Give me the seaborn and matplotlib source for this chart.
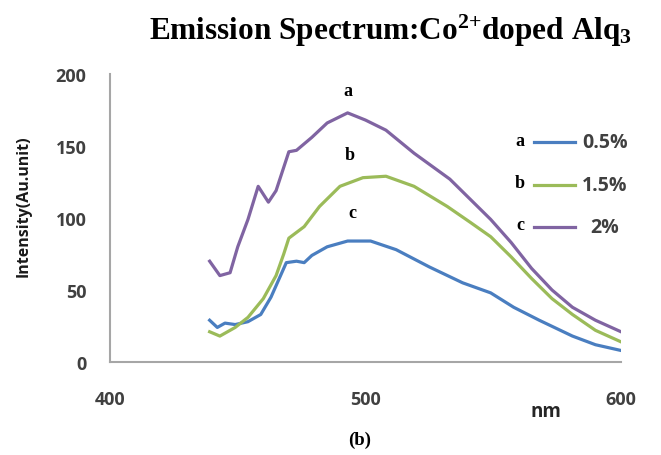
import matplotlib
matplotlib.use("Agg")
import matplotlib.pyplot as plt
import seaborn as sns
import pandas as pd

# ---- data ----
wl_05 = [439, 442, 445, 449, 454, 459, 463, 466, 469, 473, 476, 479, 485, 493, 502, 512, 525, 538, 549, 558, 568, 581, 590, 600]
int_05 = [29, 24, 27, 26, 28, 33, 45, 57, 69, 70, 69, 74, 80, 84, 84, 78, 66, 55, 48, 38, 29, 18, 12, 8]

wl_15 = [439, 443, 449, 454, 460, 465, 468, 470, 473, 476, 482, 490, 499, 508, 519, 532, 541, 549, 557, 565, 573, 581, 590, 600]
int_15 = [21, 18, 24, 31, 44, 60, 75, 86, 90, 94, 108, 122, 128, 129, 122, 108, 97, 87, 73, 58, 44, 33, 22, 14]

wl_2 = [439, 443, 447, 450, 454, 458, 462, 465, 470, 473, 479, 485, 493, 500, 508, 519, 533, 541, 549, 557, 565, 573, 581, 590, 600]
int_2 = [70, 60, 62, 80, 99, 122, 111, 119, 146, 147, 156, 166, 173, 168, 161, 145, 127, 113, 99, 83, 65, 50, 38, 29, 21]

series_names = ["0.5%", "1.5%", "2%"]
series_letters = ["a", "b", "c"]
curve_letters = ["c", "b", "a"]  # annotations drawn above each curve
colors = ["#4A7EC0", "#9BBB59", "#8064A2"]

x_ticks = [400, 500, 600]
y_ticks = [0, 50, 100, 150, 200]

frames = []
for name, wl, val in zip(series_names, [wl_05, wl_15, wl_2], [int_05, int_15, int_2]):
    frames.append(pd.DataFrame({"nm": wl, "intensity": val, "series": name}))
df = pd.concat(frames, ignore_index=True)

plt.rcParams["mathtext.fontset"] = "custom"
plt.rcParams["mathtext.rm"] = "Liberation Serif:bold"
plt.rcParams["mathtext.it"] = "Liberation Serif:bold"
plt.rcParams["mathtext.bf"] = "Liberation Serif:bold"

W, H = 661, 456
fig = plt.figure(figsize=(W / 100, H / 100), dpi=100)
ax = fig.add_axes([110 / W, 1 - 363 / H, (621 - 110) / W, (363 - 75) / H])

sns.lineplot(data=df, x="nm", y="intensity", hue="series", hue_order=series_names,
             palette=colors, sort=False, estimator=None, linewidth=2.3, ax=ax, legend=False)

ax.set_xlim(400, 600)
ax.set_ylim(0, 200)
ax.set_xticks(x_ticks)
ax.set_yticks(y_ticks)
ax.set_xlabel("")
ax.set_ylabel("")
for s in ["top", "right"]:
    ax.spines[s].set_visible(False)
for s in ["left", "bottom"]:
    ax.spines[s].set_color("#A6A6A6")
    ax.spines[s].set_linewidth(1.5)
ax.tick_params(axis="both", length=0, labelcolor="#404040")
ax.tick_params(axis="y", pad=17)
ax.tick_params(axis="x", pad=20)
for lab in ax.get_xticklabels() + ax.get_yticklabels():
    lab.set_fontfamily("Open Sans")
    lab.set_fontweight("bold")
    lab.set_fontsize(13)

def ftext(x, y, s, **kw):
    return fig.text(x / W, 1 - y / H, s, **kw)

serif = "Liberation Serif"
ftext(391, 31, r"Emission Spectrum:Co$^{\text{2+}}$doped Alq$_{3}$", ha="center", va="center",
      fontfamily=serif, fontweight="bold", fontsize=22.5)
ftext(24, 206, "Intensity(Au.unit)", rotation=90, ha="center", va="center",
      fontfamily="Open Sans", fontweight="bold", fontsize=11.5, color="#1a1a1a")
ftext(546, 412, "nm", ha="center", va="center", fontfamily="Open Sans",
      fontweight="bold", fontsize=13.5, color="#262626")
ftext(360, 440, "(b)", ha="center", va="center", fontfamily=serif,
      fontweight="bold", fontsize=13.5)

# curve annotations
for letter, (x, y) in zip(curve_letters, [(352, 214), (350, 156), (348, 91)]):
    ftext(x, y, letter, ha="center", va="center", fontfamily=serif, fontweight="bold", fontsize=13)

# legend
leg_y = [143, 186, 228]
for letter, name, col, y in zip(series_letters, series_names, colors, leg_y):
    ftext(520, y - 2, letter, ha="center", va="center", fontfamily=serif, fontweight="bold", fontsize=13)
    fig.add_artist(plt.Line2D([534 / W, 575 / W], [1 - y / H, 1 - y / H], color=col, linewidth=2.3))
    ftext(582 if name != "2%" else 590, y, name, ha="left", va="center", fontfamily="Open Sans",
          fontweight="bold", fontsize=14, color="#404040")

fig.savefig("out.png", dpi=100)
